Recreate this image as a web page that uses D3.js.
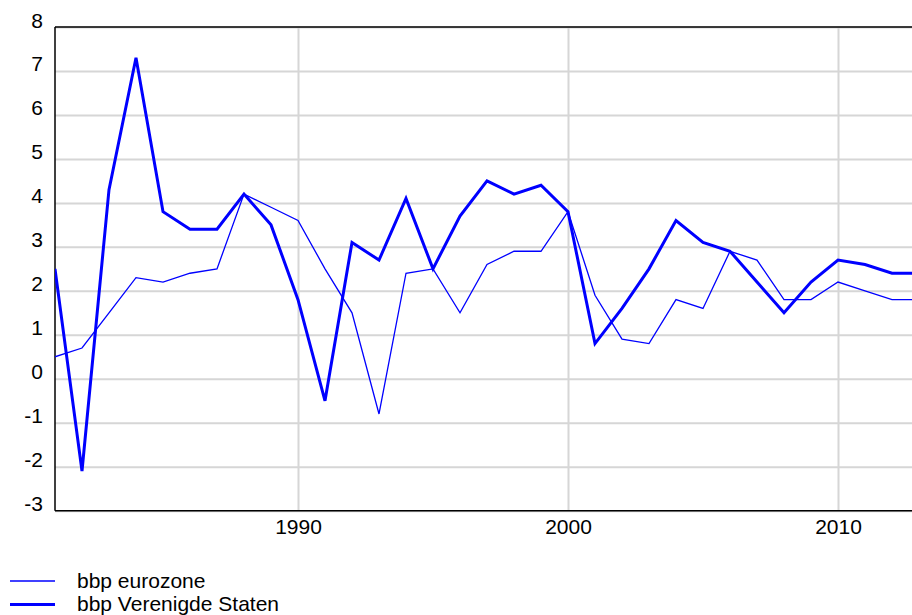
<!DOCTYPE html>
<html>
<head>
<meta charset="utf-8">
<script src="https://cdn.jsdelivr.net/npm/d3@7"></script>
<style>
  html, body { margin: 0; padding: 0; background: #fff; }
  svg { display: block; font-family: "Liberation Sans", Arial, Helvetica, sans-serif; }
  .grid line { stroke: #d6d6d6; stroke-width: 2; }
  .grid path { display: none; }
  .tick text { fill: #000; font-size: 21px; }
  .frame { stroke: #000; stroke-width: 1.5; }
  .legend text { font-size: 21px; fill: #000; }
</style>
</head>
<body>
<svg id="chart" width="912" height="615"></svg>
<script>
// yearly growth
var years = [1981, 1982, 1983, 1984, 1985, 1986, 1987, 1988, 1989, 1990,
             1991, 1992, 1993, 1994, 1995, 1996, 1997, 1998, 1999, 2000,
             2001, 2002, 2003, 2004, 2005, 2006, 2007, 2008, 2009, 2010,
             2011, 2012, 2013];
var euro = [0.5, 0.7, 1.5, 2.3, 2.2, 2.4, 2.5, 4.2, 3.9, 3.6,
            2.5, 1.5, -0.8, 2.4, 2.5, 1.5, 2.6, 2.9, 2.9, 3.8,
            1.9, 0.9, 0.8, 1.8, 1.6, 2.9, 2.7, 1.8, 1.8, 2.2,
            2.0, 1.8, 1.8];
var us = [2.5, -2.1, 4.3, 7.3, 3.8, 3.4, 3.4, 4.2, 3.5, 1.8,
          -0.5, 3.1, 2.7, 4.1, 2.5, 3.7, 4.5, 4.2, 4.4, 3.8,
          0.8, 1.6, 2.5, 3.6, 3.1, 2.9, 2.2, 1.5, 2.2, 2.7,
          2.6, 2.4, 2.4];
var yTicks = [-3, -2, -1, 0, 1, 2, 3, 4, 5, 6, 7, 8];
var xTicks = [1990, 2000, 2010];
var seriesNames = ["bbp eurozone", "bbp Verenigde Staten"];

(function () {
    var svg = d3.select("#chart"),
        W = 912,
        pLeft = 55, pTop = 27, pBottom = 510.7, pRight = 919;

    var x = d3.scaleLinear().domain([1981, 2013]).range([pLeft, pRight]);
    var y = d3.scaleLinear().domain([-3, 8]).range([pBottom, pTop]);

    svg.append("defs").append("clipPath").attr("id", "plot")
        .append("rect")
        .attr("x", pLeft).attr("y", pTop - 10)
        .attr("width", W - pLeft).attr("height", pBottom - pTop + 20);

    // horizontal grid + y labels (plain hyphen for negatives)
    var yAxis = svg.append("g")
        .attr("class", "grid")
        .attr("transform", "translate(" + pLeft + ",0)")
        .call(d3.axisLeft(y).tickValues(yTicks).tickSize(-(W - pLeft)).tickPadding(12)
            .tickFormat(function(d) { return String(d); }));
    yAxis.selectAll("text").attr("dy", 0);

    // vertical grid + x labels
    var xAxis = svg.append("g")
        .attr("class", "grid")
        .attr("transform", "translate(0," + pBottom + ")")
        .call(d3.axisBottom(x).tickValues(xTicks).tickSize(-(pBottom - pTop)).tickPadding(0)
            .tickFormat(function(d) { return String(d); }));
    xAxis.selectAll("text").attr("y", 23.5).attr("dy", 0);

    // frame lines
    svg.append("line").attr("class", "frame")
        .attr("x1", pLeft).attr("x2", W).attr("y1", pTop).attr("y2", pTop);
    svg.append("line").attr("class", "frame")
        .attr("x1", pLeft).attr("x2", W).attr("y1", pBottom).attr("y2", pBottom);
    svg.append("line").attr("class", "frame")
        .attr("x1", pLeft).attr("x2", pLeft).attr("y1", pTop).attr("y2", pBottom);

    var line = d3.line()
        .x(function(d, i) { return x(years[i]); })
        .y(function(d) { return y(d); });

    var plot = svg.append("g").attr("clip-path", "url(#plot)");
    plot.append("path")
        .datum(euro)
        .attr("fill", "none")
        .attr("stroke", "#0000ff")
        .attr("stroke-width", 1.3)
        .attr("d", line);
    plot.append("path")
        .datum(us)
        .attr("fill", "none")
        .attr("stroke", "#0000ff")
        .attr("stroke-width", 3)
        .attr("d", line);

    // legend
    var legend = svg.append("g").attr("class", "legend");
    var widths = [1.3, 3];
    legend.selectAll("line")
        .data(seriesNames)
        .enter().append("line")
        .attr("x1", 10).attr("x2", 55)
        .attr("y1", function(d, i) { return 581 + i * 23.5; })
        .attr("y2", function(d, i) { return 581 + i * 23.5; })
        .attr("stroke", "#0000ff")
        .attr("stroke-width", function(d, i) { return widths[i]; });
    legend.selectAll("text")
        .data(seriesNames)
        .enter().append("text")
        .attr("x", 77)
        .attr("y", function(d, i) { return 588 + i * 22.5; })
        .text(function(d) { return d; });
})();
</script>
</body>
</html>
